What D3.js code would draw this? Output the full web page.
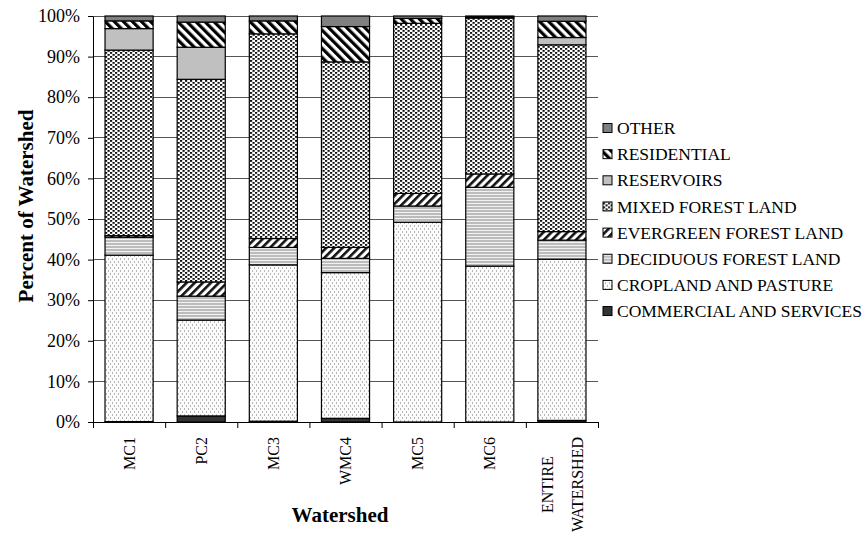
<!DOCTYPE html>
<html>
<head>
<meta charset="utf-8">
<script src="https://cdn.jsdelivr.net/npm/d3@7"></script>
<style>
body { margin: 0; background: #fff; }
text { font-family: "Liberation Serif", "Times New Roman", serif; fill: #000; }
</style>
</head>
<body>
<script>
// Land use share (%) per watershed, bottom to top of each bar
var watersheds = ["MC1", "PC2", "MC3", "WMC4", "MC5", "MC6", "ENTIRE WATERSHED"];
var commercial  = [0.1, 1.5, 0.2, 0.9, 0.0, 0.0, 0.4];
var cropland    = [41.0, 23.6, 38.5, 35.9, 49.2, 38.4, 39.7];
var deciduous   = [4.4, 5.9, 4.3, 3.5, 4.0, 19.4, 4.7];
var evergreen   = [0.4, 3.5, 2.2, 2.7, 3.1, 3.3, 2.1];
var mixed       = [45.7, 49.9, 50.4, 45.7, 41.9, 38.4, 46.0];
var reservoirs  = [5.3, 7.9, 0.0, 0.0, 0.0, 0.0, 1.8];
var residential = [1.9, 6.2, 3.2, 8.7, 1.2, 0.2, 4.0];
var other       = [1.2, 1.5, 1.2, 2.6, 0.6, 0.3, 1.3];

var seriesKeys = ["commercial", "cropland", "deciduous", "evergreen", "mixed", "reservoirs", "residential", "other"];
var seriesNames = ["COMMERCIAL AND SERVICES", "CROPLAND AND PASTURE", "DECIDUOUS FOREST LAND",
  "EVERGREEN FOREST LAND", "MIXED FOREST LAND", "RESERVOIRS", "RESIDENTIAL", "OTHER"];
var yTicks = [0, 10, 20, 30, 40, 50, 60, 70, 80, 90, 100];

var svg = d3.select("body").append("svg")
  .attr("width", 865)
  .attr("height", 540);

var margin = {top: 16, left: 93, right: 598, bottom: 422};

// table for d3.stack
var values = {commercial: commercial, cropland: cropland, deciduous: deciduous, evergreen: evergreen,
  mixed: mixed, reservoirs: reservoirs, residential: residential, other: other};
var table = watersheds.map(function(w, i) {
  var row = {name: w};
  seriesKeys.forEach(function(k) { row[k] = values[k][i]; });
  return row;
});
var stacked = d3.stack().keys(seriesKeys)(table);

var x = d3.scaleBand().domain(watersheds)
  .range([margin.left, margin.right])
  .paddingInner(1 / 3).paddingOuter(1 / 6);
var y = d3.scaleLinear().domain([0, 100]).range([margin.bottom, margin.top]);

// patterns
var defs = svg.append("defs");

function pat(id, w, h, bg, transform) {
  var p = defs.append("pattern").attr("id", id)
    .attr("patternUnits", "userSpaceOnUse")
    .attr("width", w).attr("height", h);
  if (transform) p.attr("patternTransform", transform);
  p.append("rect").attr("width", w).attr("height", h).attr("fill", bg);
  return p;
}

var pCrop = pat("p-crop", 4, 6, "#fbfbfb");
pCrop.append("rect").attr("x", 0).attr("y", 0).attr("width", 1).attr("height", 2).attr("fill", "#b8b8b8");
pCrop.append("rect").attr("x", 2).attr("y", 3).attr("width", 1).attr("height", 2).attr("fill", "#b8b8b8");

var pDec = pat("p-dec", 4, 3, "#f2f2f2");
pDec.append("rect").attr("width", 4).attr("height", 2).attr("fill", "#bcbcbc");

var pEver = pat("p-ever", 5.7, 5.7, "#fff", "rotate(45)");
pEver.append("rect").attr("width", 2.6).attr("height", 5.7).attr("fill", "#111");

var pMix = pat("p-mix", 5, 4, "#fff");
pMix.append("rect").attr("x", 0).attr("y", 0).attr("width", 2.2).attr("height", 1.8).attr("fill", "#111");
pMix.append("rect").attr("x", 2.5).attr("y", 2).attr("width", 2.2).attr("height", 1.8).attr("fill", "#111");

var pRes = pat("p-res", 6.4, 6.4, "#fff", "rotate(-45)");
pRes.append("rect").attr("width", 3.2).attr("height", 6.4).attr("fill", "#000");

var fills = {
  commercial: "#333333",
  cropland: "url(#p-crop)",
  deciduous: "url(#p-dec)",
  evergreen: "url(#p-ever)",
  mixed: "url(#p-mix)",
  reservoirs: "#c0c0c0",
  residential: "url(#p-res)",
  other: "#808080"
};

// gridlines
svg.append("g").selectAll("line")
  .data(yTicks.filter(function(d) { return d > 0; }))
  .enter().append("line")
  .attr("x1", margin.left).attr("x2", margin.right)
  .attr("y1", function(d) { return y(d); })
  .attr("y2", function(d) { return y(d); })
  .attr("stroke", "#555")
  .attr("stroke-width", 1)
  .attr("shape-rendering", "crispEdges");

// bars
svg.append("g").selectAll("g")
  .data(stacked)
  .enter().append("g")
  .attr("fill", function(d) { return fills[d.key]; })
  .selectAll("rect")
  .data(function(d) { return d; })
  .enter().append("rect")
  .filter(function(d) { return d[1] - d[0] > 0; })
  .attr("x", function(d) { return x(d.data.name); })
  .attr("y", function(d) { return y(d[1]); })
  .attr("width", x.bandwidth())
  .attr("height", function(d) { return y(d[0]) - y(d[1]); })
  .attr("stroke", "#000")
  .attr("stroke-width", 1.2);

// y axis
var yAxis = svg.append("g")
  .attr("transform", "translate(" + margin.left + ",0)")
  .call(d3.axisLeft(y).tickValues(yTicks)
    .tickFormat(function(d) { return d + "%"; })
    .tickSize(5).tickSizeOuter(0).tickPadding(8));
yAxis.select(".domain").attr("stroke", "#000");
yAxis.selectAll("line").attr("stroke", "#000");
yAxis.selectAll("text")
  .style("font-family", "'Liberation Serif', 'Times New Roman', serif")
  .style("font-size", "18px");

// x axis with ticks between categories
var xSlots = d3.scaleLinear().domain([0, watersheds.length]).range([margin.left, margin.right]);
var xAxis = svg.append("g")
  .attr("transform", "translate(0," + margin.bottom + ")")
  .call(d3.axisBottom(xSlots).tickValues(d3.range(watersheds.length + 1))
    .tickFormat("").tickSize(6).tickSizeOuter(0));
xAxis.select(".domain").attr("stroke", "#000");
xAxis.selectAll("line").attr("stroke", "#000");

// category labels, rotated
var catLabels = svg.append("g").selectAll("text")
  .data(watersheds)
  .enter().append("text")
  .style("font-size", "16px")
  .attr("transform", function(d) {
    var cx = x(d) + x.bandwidth() / 2;
    return "translate(" + cx + ",437) rotate(-90)";
  });

catLabels.each(function(d) {
  var t = d3.select(this);
  var words = d.split(" ");
  if (words.length === 1) {
    t.attr("text-anchor", "end").attr("dy", "0.35em").text(d);
  } else {
    t.attr("text-anchor", "middle");
    words.forEach(function(w, i) {
      t.append("tspan").attr("x", 0).attr("y", (i - 0.5) * 30).attr("dy", "0.35em").text(w);
    });
    var len = d3.max(t.selectAll("tspan").nodes(), function(n) { return n.getComputedTextLength(); });
    var cx = x(d) + x.bandwidth() / 2;
    t.attr("transform", "translate(" + cx + "," + (437 + len / 2) + ") rotate(-90)");
  }
});

// axis titles
svg.append("text")
  .attr("transform", "translate(33,206) rotate(-90)")
  .attr("text-anchor", "middle")
  .style("font-size", "21px")
  .style("font-weight", "bold")
  .text("Percent of Watershed");

svg.append("text")
  .attr("x", 340)
  .attr("y", 522)
  .attr("text-anchor", "middle")
  .style("font-size", "21px")
  .style("font-weight", "bold")
  .text("Watershed");

// legend, top item = top of stack
var legendOrder = seriesKeys.slice().reverse();
var legend = svg.append("g").selectAll("g")
  .data(legendOrder)
  .enter().append("g")
  .attr("transform", function(d, i) { return "translate(603," + (128 + i * 26.15) + ")"; });

legend.append("rect")
  .attr("x", 0).attr("y", -4.5)
  .attr("width", 9).attr("height", 9)
  .attr("fill", function(d) { return fills[d]; })
  .attr("stroke", "#000")
  .attr("stroke-width", 1);

legend.append("text")
  .attr("x", 14)
  .attr("dy", "0.35em")
  .style("font-size", "17.5px")
  .text(function(d) { return seriesNames[seriesKeys.indexOf(d)]; });
</script>
</body>
</html>
